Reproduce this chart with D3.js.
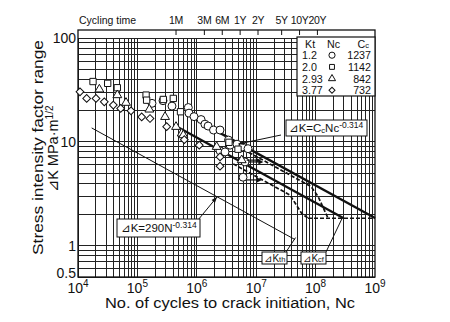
<!DOCTYPE html>
<html><head><meta charset="utf-8">
<script src="https://cdn.jsdelivr.net/npm/d3@7"></script>
<style>
body{margin:0;background:#fff}
svg{display:block}
text{font-family:"Liberation Sans",Arial,"DejaVu Sans","Noto Sans CJK JP",sans-serif;fill:#111}
</style>
</head><body>
<svg id="c" width="450" height="322"></svg>
<script>
// ---------- data ----------
const circles = [[1.76e5,23.5],[2.70e5,24.9],[3.82e5,22.1],[7.19e5,21.4],[7.39e5,18.9],[8.98e5,17.5],
  [1.18e6,16.4],[1.37e6,14.8],[1.55e6,14.2],[1.91e6,13.0],[2.46e6,13.0],[2.46e6,8.2],[2.99e6,8.0],
  [3.42e6,10.4],[3.63e6,9.3],[4.75e6,9.5],[5.93e6,8.95],[7.28e6,8.6],[6.47e6,6.41],[6.0e6,4.57]];
const squares = [[1.79e4,38.1],[3.16e4,36.6],[4.59e4,33.2],[1.40e5,28.2],[1.43e5,25.2],[2.73e5,25.6],
  [4.02e5,26.2],[5.32e5,19.5],[3.48e6,9.9],[4.94e6,8.5]];
const triangles = [[2.29e4,32.0],[4.59e4,28.2],[6.43e4,23.8],[1.59e5,20.5],[2.92e5,17.4],[4.47e5,13.96],
  [5.57e5,12.05],[5.93e5,11.6],[2.16e6,8.96],[5.70e6,6.67]];
const diamonds = [[1.08e4,30.3],[1.40e4,26.2],[2.01e4,26.2],[2.77e4,24.3],[3.93e4,22.6],[5.23e4,21.0],
  [7.80e4,19.9],[1.18e5,17.4],[1.63e5,16.8],[3.11e5,14.0],[6.16e5,10.5],[1.10e6,9.3],[2.46e6,7.16],[2.46e6,5.84]];
// run-out arrows: [N start, N end, K]
const runouts = [[7.5e6,1.32e7,6.41],[6.9e6,1.2e7,6.67],[7.0e6,1.25e7,4.3]];

const ktValues = ["1.2","2.0","2.93","3.77"];
const ccValues = [1237,1142,842,732];
const exponent = -0.314;
const thresholdConst = 290;
const kcf = 1.84;

// line segments [N,K]
const thinLine = [[1.7e4, thresholdConst*Math.pow(1.7e4,exponent)],[4.5e7, thresholdConst*Math.pow(4.5e7,exponent)]];
const upperSolid = [[1.6e6, 1237*Math.pow(1.6e6,exponent)],[1e9, 1237*Math.pow(1e9,exponent)]];
const lowerSolid = [[5.0e5, 842*Math.pow(5.0e5,exponent)],[2.97e8, kcf]];
const upperDashed = [[5.0e6, 1142*Math.pow(5.0e6,exponent)],[8.4e7, 1142*Math.pow(8.4e7,exponent)],[1.11e8,2.95],[1.62e8,kcf]];
const lowerDashed = [[4.1e6, 732*Math.pow(4.1e6,exponent)],[3.7e7, 732*Math.pow(3.7e7,exponent)],[5.83e7,2.05],[7.45e7,kcf]];
const kcfLine = [[7.45e7,kcf],[1e9,kcf]];

const xPowers = [4,5,6,7,8,9];
const yTickValues = [0.5,1,10,100];
const yTickText = ["0.5","1","10","100"];
const timeLabels = ["1M","3M","6M","1Y","2Y","5Y","10Y","20Y"];
const timeMonths = [1,3,6,12,24,60,120,240];
const cyclesPerMonth = 4.47e5;

// ---------- drawing ----------
const svg = d3.select("#c");
const L=78, R=375, T=38, B=277, FT=30;
const x = d3.scaleLog().domain([1e4,1e9]).range([L,R]);
const y = d3.scaleLog().domain([0.5,100]).range([B,T]);

// grid
const g = svg.append("g").attr("stroke","#222").attr("stroke-width",1).attr("shape-rendering","crispEdges");
for (let p=4;p<9;p++) for (let m=1;m<10;m++){
  const v=m*Math.pow(10,p);
  g.append("line").attr("x1",x(v)).attr("x2",x(v)).attr("y1",T).attr("y2",B);
}
const hv=[];
for (let m=5;m<10;m++) hv.push(m/10);
for (let m=1;m<10;m++) hv.push(m);
for (let m=1;m<=10;m++) hv.push(m*10);
hv.forEach(v=>g.append("line").attr("x1",L).attr("x2",R).attr("y1",y(v)).attr("y2",y(v)));

// frame
svg.append("rect").attr("x",L).attr("y",FT).attr("width",R-L).attr("height",B-FT)
  .attr("fill","none").attr("stroke","#111").attr("stroke-width",1.3);

// top time axis
const topAxis = svg.append("g");
timeMonths.forEach((mo,i)=>{
  const xx = x(mo*cyclesPerMonth);
  topAxis.append("line").attr("x1",xx).attr("x2",xx).attr("y1",FT).attr("y2",FT+5).attr("stroke","#111");
  topAxis.append("text").attr("x",xx).attr("y",FT-6).attr("text-anchor","middle").attr("font-size",10.5)
    .attr("letter-spacing",-0.3).text(timeLabels[i]);
});
topAxis.append("text").attr("x",L+1).attr("y",FT-6).attr("font-size",10.5).text("Cycling time");

// lines
const line = d3.line().x(d=>x(d[0])).y(d=>y(d[1]));
const ln = svg.append("g").attr("fill","none").attr("stroke","#111");
ln.append("path").attr("d",line(thinLine)).attr("stroke-width",1);
ln.append("path").attr("d",line(upperSolid)).attr("stroke-width",2.3);
ln.append("path").attr("d",line(lowerSolid)).attr("stroke-width",2.3);
ln.append("path").attr("d",line(upperDashed)).attr("stroke-width",1.7).attr("stroke-dasharray","4,2");
ln.append("path").attr("d",line(lowerDashed)).attr("stroke-width",1.7).attr("stroke-dasharray","4,2");
ln.append("path").attr("d",line(kcfLine)).attr("stroke-width",1.7).attr("stroke-dasharray","4,2");

// markers
const mk = svg.append("g").attr("fill","#fff").attr("stroke","#111").attr("stroke-width",1);
const sym = (type,size)=>d3.symbol().type(type).size(size)();
circles.forEach(d=>mk.append("path").attr("d",sym(d3.symbolCircle,50)).attr("transform",`translate(${x(d[0])},${y(d[1])})`));
squares.forEach(d=>mk.append("path").attr("d",sym(d3.symbolSquare,40)).attr("transform",`translate(${x(d[0])},${y(d[1])})`));
triangles.forEach(d=>mk.append("path").attr("d",sym(d3.symbolTriangle,34)).attr("transform",`translate(${x(d[0])},${y(d[1])})`));
diamonds.forEach(d=>mk.append("path").attr("d",sym(d3.symbolSquare,30)).attr("transform",`translate(${x(d[0])},${y(d[1])}) rotate(45)`));

// runout arrows
const ar = svg.append("g").attr("stroke","#111").attr("fill","#111");
runouts.forEach(d=>{
  const x1=x(d[0]), x2=x(d[1]), yy=y(d[2]);
  ar.append("line").attr("x1",x1).attr("x2",x2-3).attr("y1",yy).attr("y2",yy).attr("stroke-width",1.2);
  ar.append("path").attr("d",`M${x2},${yy}L${x2-5},${yy-2.5}L${x2-5},${yy+2.5}Z`).attr("stroke","none");
});

// legend
const lg = svg.append("g");
lg.append("rect").attr("x",297).attr("y",37).attr("width",R-297).attr("height",59)
  .attr("fill","#fff").attr("stroke","#111").attr("stroke-width",1.2);
const LFS = 10.2, LSP = 11.7;
const hdr = lg.append("g").attr("font-size",LFS+0.5);
hdr.append("text").attr("x",305).attr("y",47.5).text("Kt");
hdr.append("text").attr("x",327).attr("y",47.5).text("Nc");
const cch = hdr.append("text").attr("x",369).attr("y",47.5).attr("text-anchor","end");
cch.append("tspan").text("C");
cch.append("tspan").attr("font-size",7.5).text("c");
const legSyms=[d3.symbolCircle,d3.symbolSquare,d3.symbolTriangle,d3.symbolSquare];
const legSize=[30,24,22,18];
ktValues.forEach((k,i)=>{
  const yy = 47.5+LSP*(i+1);
  lg.append("text").attr("x",302).attr("y",yy).attr("font-size",LFS+0.5).text(k);
  lg.append("path").attr("d",sym(legSyms[i],legSize[i])).attr("fill","#fff").attr("stroke","#111")
    .attr("transform",`translate(332,${yy-4})`+(i===3?" rotate(45)":""));
  lg.append("text").attr("x",371).attr("y",yy).attr("font-size",LFS+0.5).attr("text-anchor","end").text(ccValues[i]);
});

// annotation boxes
function box(xb,yb,w,h){
  svg.append("rect").attr("x",xb).attr("y",yb).attr("width",w).attr("height",h)
    .attr("fill","#fff").attr("stroke","#111").attr("stroke-width",1);
}
function leader(x1,y1,x2,y2,head){
  svg.append("line").attr("x1",x1).attr("y1",y1).attr("x2",x2).attr("y2",y2).attr("stroke","#111").attr("stroke-width",1);
  if(head){
    const a=Math.atan2(y2-y1,x2-x1);
    const p=[[x2,y2],[x2-6*Math.cos(a)+2.2*Math.sin(a),y2-6*Math.sin(a)-2.2*Math.cos(a)],[x2-6*Math.cos(a)-2.2*Math.sin(a),y2-6*Math.sin(a)+2.2*Math.cos(a)]];
    svg.append("path").attr("d","M"+p.join("L")+"Z").attr("fill","#111");
  }
}
// ΔK = Cc Nc^-0.314
leader(281,135,x(5.0e6),y(1237*Math.pow(5.0e6,exponent))+1,true);
box(286,120,81,16);
const t1 = svg.append("text").attr("x",289).attr("y",132).attr("font-size",11.5);
t1.append("tspan").text("⊿K=C");
t1.append("tspan").attr("font-size",7.5).attr("dy",1).text("c");
t1.append("tspan").attr("dy",-1).text("Nc");
t1.append("tspan").attr("font-size",8.5).attr("dy",-4).text("-0.314");
// ΔK = 290 N^-0.314
leader(198,220,x(2.2e6),y(thresholdConst*Math.pow(2.2e6,exponent)),true);
box(117,219,83,18);
const t2 = svg.append("text").attr("x",121).attr("y",232).attr("font-size",11.5);
t2.append("tspan").text("⊿K=290N");
t2.append("tspan").attr("font-size",8.5).attr("dy",-4).text("-0.314");
// ΔKth
leader(286,252,x(4.6e7),y(thinLine[1][1])-2,false);
box(262,252,25,12);
const t3 = svg.append("text").attr("x",264).attr("y",262).attr("font-size",10);
t3.append("tspan").text("⊿K");
t3.append("tspan").attr("font-size",7.5).text("th");
// ΔKcf
leader(326,252,x(2.8e8),y(kcf),false);
box(301,252,25,12);
const t4 = svg.append("text").attr("x",303).attr("y",262).attr("font-size",10);
t4.append("tspan").text("⊿K");
t4.append("tspan").attr("font-size",7.5).text("cf");

// y tick labels
yTickValues.forEach((v,i)=>{
  svg.append("text").attr("x",76).attr("y",y(v)+(v===0.5?1:5)).attr("text-anchor","end")
    .attr("font-size",14).text(yTickText[i]);
});
// x tick labels
xPowers.forEach(p=>{
  const t = svg.append("text").attr("x",x(Math.pow(10,p))).attr("y",293).attr("text-anchor","middle").attr("font-size",14);
  t.append("tspan").text("10");
  t.append("tspan").attr("font-size",10).attr("dy",-6).text(p);
});
// axis titles
svg.append("text").attr("x",105).attr("y",308).attr("font-size",14)
  .attr("textLength",250).attr("lengthAdjust","spacingAndGlyphs")
  .text("No. of cycles to crack initiation, Nc");
svg.append("text").attr("transform","translate(43,255) rotate(-90)").attr("font-size",15)
  .attr("textLength",215).attr("lengthAdjust","spacingAndGlyphs")
  .text("Stress intensity factor range");
const yt2 = svg.append("text").attr("transform","translate(58,192) rotate(-90)").attr("font-size",14.5);
yt2.append("tspan").text("⊿K MPa·m");
yt2.append("tspan").attr("font-size",10).attr("dy",-5).text("1/2");
</script>
</body></html>
